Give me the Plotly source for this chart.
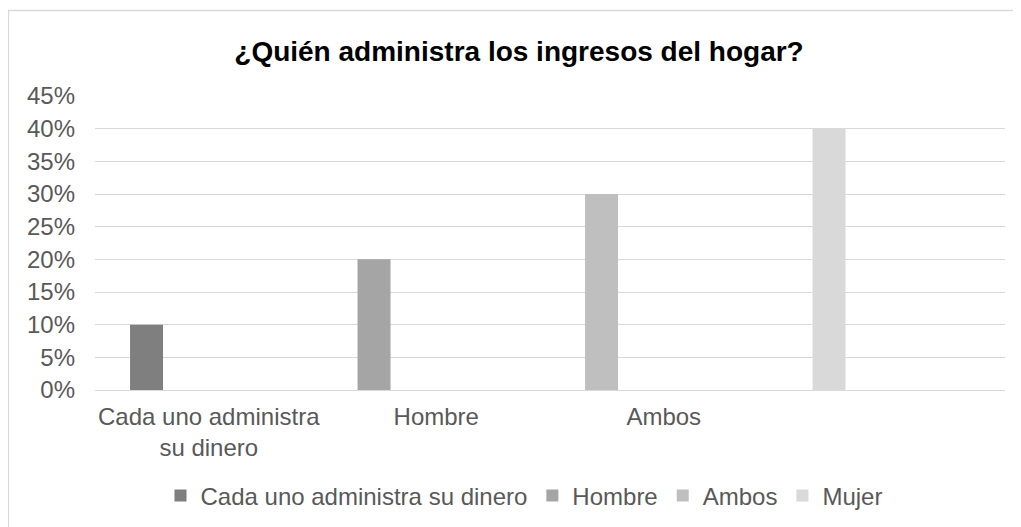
import plotly.graph_objects as go

categories = ["Cada uno administra<br>su dinero", "Hombre", "Ambos", ""]
series_names = ["Cada uno administra su dinero", "Hombre", "Ambos", "Mujer"]
series_values = [0.10, 0.20, 0.30, 0.40]
series_colors = ["#7f7f7f", "#a5a5a5", "#bfbfbf", "#d9d9d9"]
y_ticks = [0, 0.05, 0.10, 0.15, 0.20, 0.25, 0.30, 0.35, 0.40, 0.45]

FONT = "Arial, Liberation Sans, sans-serif"
W, H = 1021, 527
OFF = 8  # page body margin offset
# plot area in screen pixels: x 95..1005, y 96..390
PL, PR, PT, PB = 95 - OFF, 1005 - OFF, 96 - OFF, 390 - OFF
ML, MR, MT, MB = PL, W - PR, PT, H - PB
PW, PH = PR - PL, PB - PT

fig = go.Figure()
for i, (name, val, col) in enumerate(zip(series_names, series_values, series_colors)):
    fig.add_trace(go.Bar(
        x=[i], y=[val], name=name,
        marker=dict(color=col, line=dict(width=0)),
        width=0.145, offset=-0.346,
        hovertemplate="%{y:.0%}<extra>" + name + "</extra>",
    ))

def px_x(px):
    return (px - OFF - PL) / PW

def px_y(py):
    return (PB - (py - OFF)) / PH

fig.update_layout(
    width=W, height=H,
    margin=dict(l=ML, r=MR, t=MT, b=MB, autoexpand=False),
    paper_bgcolor="white", plot_bgcolor="white",
    barmode="overlay",
    font=dict(family=FONT, size=24, color="#595959"),
    title=dict(
        text="<b>¿Quién administra los ingresos del hogar?</b>",
        font=dict(family=FONT, size=28, color="#000000"),
        x=(519 - OFF) / W, xanchor="center", y=1 - (51 - OFF) / H, yanchor="middle",
    ),
    xaxis=dict(
        range=[-0.5, 3.5], tickvals=list(range(len(categories))), ticktext=categories,
        showgrid=False, zeroline=False, showline=False, ticks="",
        ticklabelstandoff=10,
        tickfont=dict(size=24, color="#595959"),
        fixedrange=True, automargin=False,
    ),
    yaxis=dict(
        range=[0, 0.45], tickvals=y_ticks, tickformat=".0%",
        showgrid=True, gridcolor="#d9d9d9", gridwidth=1.3,
        zeroline=True, zerolinecolor="#d9d9d9", zerolinewidth=1.3,
        showline=False, ticks="", ticklabelstandoff=19,
        tickfont=dict(size=24, color="#595959"),
        fixedrange=True, automargin=False,
    ),
    legend=dict(
        orientation="h", x=px_x(524), xanchor="center", y=px_y(496), yanchor="middle",
        font=dict(size=24, color="#595959"), bgcolor="rgba(0,0,0,0)",
        itemclick=False, itemdoubleclick=False,
    ),
    showlegend=True,
    shapes=[dict(
        type="rect", xref="paper", yref="paper",
        x0=px_x(8.5), x1=px_x(W + 40), y0=px_y(10.5), y1=px_y(H + 40),
        line=dict(color="#d9d9d9", width=1.3), fillcolor="rgba(0,0,0,0)", layer="below",
    )],
)

fig.write_html("out.html")
